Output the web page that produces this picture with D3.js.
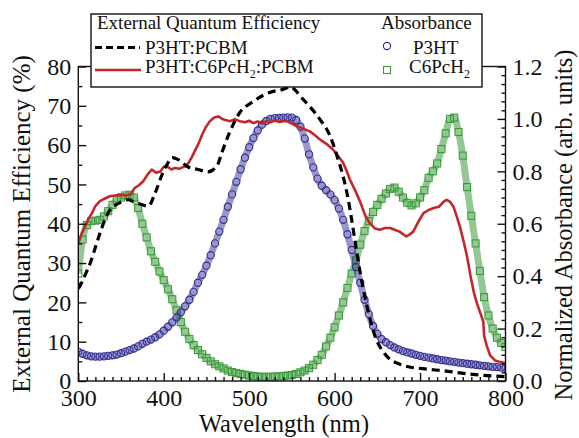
<!DOCTYPE html>
<html>
<head>
<meta charset="utf-8">
<script src="https://d3js.org/d3.v7.min.js"></script>
<style>
  body { margin: 0; background: #fff; }
  svg text { font-family: "Liberation Serif", "Times New Roman", Times, serif; fill: #111; }
  .axis path, .axis line { stroke: #111; stroke-width: 1.4; }
  .axis text { font-size: 24px; }
</style>
</head>
<body>
<script>
// EQE curves (left axis, %)
var eqeBlackWl = [300,302,308,314,320,326,332,338,344,350,358,365,372,382,390,399,405,410,417,428,440,452,463,468,477,489,504,515,524,540,548,556,560,571,583,595,603,610,616,620,626,630,640,648,655,665,675,689,700,718,735,749,765,780,800];
var eqeBlack   = [23.5,24.2,27,30,34,38,41.5,43.8,44.8,45.5,46.1,45.6,45.0,44.5,47.9,53,55.5,56.8,56.3,54.5,53.8,53.2,55,58.1,63.2,68.3,71,72.5,73.4,74.2,74.8,73.5,72.4,69.8,66.5,62.2,57.1,52,46.1,41,32.6,27.5,17,11,8,5.5,4.4,3.5,3.2,2.8,2.4,2.0,1.6,1.35,1.1];

var eqeRedWl = [300,304,308,312,316,320,325,330,337,343,349,355,361,366,371,376,381,386,391,396,400,404,409,413,418,425,429,433,437,441,444,449,454,459,464,468,472,478,483,489,495,500,505,510,515,520,525,530,535,540,544,550,556,563,571,577,583,590,598,604,610,614,618,624,630,636,641,647,653,659,665,671,676,681,684,688,692,698,704,710,716,722,727,731,735,739,743,747,751,755,759,763,767,771,774,775,778,782,788,794,800];
var eqeRed   = [35,37.5,39.3,41.3,42.7,44.5,45.7,46.3,47,47.2,47.4,47.2,47.4,49.1,49.8,50.8,52.5,53.8,53.0,53.3,54.5,54.6,53.8,54.2,54.0,54.6,55.5,57,58.8,60.5,62.2,64.5,66.1,67,67.3,66.7,66.4,66.1,66.6,66.1,65.8,66.2,65.6,66.0,65.5,66.1,65.8,66.3,65.9,66.1,66.1,65.5,64.8,64.2,63.5,62.5,61.4,60.4,58.9,57.3,55.5,53.5,51.2,48.5,45.5,42,40.2,38.8,38.5,38.9,38.9,38.4,38.0,37.2,36.8,37.3,38.0,40.5,42.7,43.5,44.0,44.3,45.5,46.1,45.6,44.4,41.8,39.0,35.5,31.7,26.8,22.5,19.5,17.0,15.1,11.5,9.0,6.5,5.2,4.8,4.5];

// Absorbance curves (right axis, normalized), sampled every 5 nm
var absWl = [300,305,310,315,320,325,330,335,340,345,350,355,360,365,370,375,380,385,390,395,400,405,410,415,420,425,430,435,440,445,450,455,460,465,470,475,480,485,490,495,500,505,510,515,520,525,530,535,540,545,550,555,560,565,570,575,580,585,590,595,600,605,610,615,620,625,630,635,640,645,650,655,660,665,670,675,680,685,690,695,700,705,710,715,720,725,730,735,740,745,750,755,760,765,770,775,780,785,790,795,800];
var absP3HT = [0.112,0.104,0.098,0.094,0.093,0.093,0.094,0.096,0.098,0.101,0.106,0.112,0.118,0.124,0.132,0.142,0.150,0.158,0.167,0.178,0.192,0.207,0.224,0.242,0.262,0.285,0.310,0.340,0.375,0.405,0.440,0.480,0.525,0.570,0.615,0.665,0.712,0.760,0.808,0.852,0.892,0.927,0.956,0.978,0.992,1.000,1.003,1.004,1.005,1.006,1.005,0.996,0.970,0.925,0.865,0.815,0.772,0.745,0.728,0.712,0.690,0.658,0.615,0.560,0.500,0.435,0.375,0.310,0.255,0.210,0.180,0.160,0.148,0.137,0.128,0.121,0.114,0.109,0.105,0.100,0.096,0.092,0.089,0.086,0.083,0.080,0.078,0.075,0.073,0.070,0.068,0.066,0.064,0.062,0.060,0.058,0.056,0.054,0.053,0.051,0.050];
var absC6 = [0.41,0.54,0.595,0.610,0.612,0.615,0.628,0.648,0.672,0.690,0.700,0.708,0.711,0.700,0.660,0.600,0.548,0.495,0.455,0.418,0.385,0.350,0.312,0.270,0.225,0.188,0.160,0.137,0.118,0.102,0.088,0.075,0.064,0.056,0.048,0.040,0.034,0.030,0.027,0.024,0.021,0.019,0.017,0.016,0.016,0.016,0.017,0.018,0.019,0.021,0.023,0.027,0.033,0.040,0.049,0.062,0.080,0.100,0.132,0.165,0.205,0.250,0.300,0.355,0.410,0.460,0.520,0.572,0.610,0.645,0.672,0.695,0.715,0.733,0.738,0.722,0.700,0.680,0.670,0.678,0.700,0.728,0.775,0.800,0.830,0.885,0.945,1.000,1.005,0.950,0.860,0.740,0.630,0.525,0.420,0.320,0.250,0.200,0.165,0.145,0.130];

var xTicks = [300,400,500,600,700,800];
var yLeftTicks = [0,10,20,30,40,50,60,70,80];
var yRightTicks = [0,0.2,0.4,0.6,0.8,1.0,1.2];

var W = 579, H = 438;
var plot = { left: 78.3, right: 505.5, top: 66.5, bottom: 381 };
var blue = "#332d93", green = "#3b9a3b", red = "#c3272b";
var serif = '"Liberation Serif", "Times New Roman", Times, serif';

var svg = d3.select("body").append("svg").attr("width", W).attr("height", H);

var x = d3.scaleLinear().domain([300, 800]).range([plot.left, plot.right]);
var yL = d3.scaleLinear().domain([0, 80]).range([plot.bottom, plot.top]);
var yR = d3.scaleLinear().domain([0, 1.2]).range([plot.bottom, plot.top]);

// clip to plot area
svg.append("clipPath").attr("id", "clip")
   .append("rect").attr("x", plot.left).attr("y", plot.top)
   .attr("width", plot.right - plot.left).attr("height", plot.bottom - plot.top);
var g = svg.append("g").attr("clip-path", "url(#clip)");

// absorbance markers
var c6 = absWl.map(function(d, i) { return [d, absC6[i]]; });
var p3 = absWl.map(function(d, i) { return [d, absP3HT[i]]; });
var lineR = d3.line().x(function(d) { return x(d[0]); }).y(function(d) { return yR(d[1]); }).curve(d3.curveMonotoneX);

g.append("path").datum(c6)
 .attr("fill", "none").attr("stroke", green).attr("stroke-opacity", 0.55).attr("stroke-width", 7)
 .attr("d", lineR);
g.selectAll(".sq").data(c6).enter().append("rect")
 .attr("x", function(d) { return x(d[0]) - 3.5; })
 .attr("y", function(d) { return yR(d[1]) - 3.5; })
 .attr("width", 7).attr("height", 7)
 .attr("fill", "none").attr("stroke", green).attr("stroke-width", 1.1);

g.append("path").datum(p3)
 .attr("fill", "none").attr("stroke", blue).attr("stroke-opacity", 0.5).attr("stroke-width", 7)
 .attr("d", lineR);
g.selectAll(".ci").data(p3).enter().append("circle")
 .attr("cx", function(d) { return x(d[0]); })
 .attr("cy", function(d) { return yR(d[1]); })
 .attr("r", 3.6)
 .attr("fill", "none").attr("stroke", blue).attr("stroke-width", 1.1);

// EQE lines
var lineL = d3.line().x(function(d) { return x(d[0]); }).y(function(d) { return yL(d[1]); });
g.append("path").datum(eqeRedWl.map(function(d, i) { return [d, eqeRed[i]]; }))
 .attr("fill", "none").attr("stroke", red).attr("stroke-width", 2.6).attr("stroke-linejoin", "round")
 .attr("d", lineL);
g.append("path").datum(eqeBlackWl.map(function(d, i) { return [d, eqeBlack[i]]; }))
 .attr("fill", "none").attr("stroke", "#000").attr("stroke-width", 3.2).attr("stroke-dasharray", "8,5")
 .attr("d", lineL.curve(d3.curveMonotoneX));

// frame
svg.append("rect").attr("x", plot.left).attr("y", plot.top)
   .attr("width", plot.right - plot.left).attr("height", plot.bottom - plot.top)
   .attr("fill", "none").attr("stroke", "#111").attr("stroke-width", 1.4);

// axes: major and minor ticks point inward
function minor(lo, hi, step, majors) {
  var out = [];
  for (var v = lo; v <= hi + 1e-9; v += step) {
    var r = Math.round(v * 1000) / 1000;
    if (majors.indexOf(r) < 0) out.push(r);
  }
  return out;
}

svg.append("g").attr("class", "axis").attr("transform", "translate(0," + plot.bottom + ")")
   .call(d3.axisBottom(x).tickValues(xTicks).tickSizeInner(-8).tickSizeOuter(0).tickPadding(8));
svg.append("g").attr("class", "axis").attr("transform", "translate(0," + plot.bottom + ")")
   .call(d3.axisBottom(x).tickValues(minor(300, 800, 10, xTicks)).tickSizeInner(-4).tickSizeOuter(0).tickFormat(""));

svg.append("g").attr("class", "axis").attr("transform", "translate(" + plot.left + ",0)")
   .call(d3.axisLeft(yL).tickValues(yLeftTicks).tickSizeInner(-8).tickSizeOuter(0).tickPadding(7));
svg.append("g").attr("class", "axis").attr("transform", "translate(" + plot.left + ",0)")
   .call(d3.axisLeft(yL).tickValues(minor(0, 80, 5, yLeftTicks)).tickSizeInner(-4).tickSizeOuter(0).tickFormat(""));

svg.append("g").attr("class", "axis").attr("transform", "translate(" + plot.right + ",0)")
   .call(d3.axisRight(yR).tickValues(yRightTicks).tickSizeInner(-8).tickSizeOuter(0).tickPadding(7).tickFormat(d3.format(".1f")));
svg.append("g").attr("class", "axis").attr("transform", "translate(" + plot.right + ",0)")
   .call(d3.axisRight(yR).tickValues(minor(0, 1.2, 0.2 / 6, yRightTicks)).tickSizeInner(-4).tickSizeOuter(0).tickFormat(""));

svg.selectAll(".axis .domain").remove();
svg.selectAll(".axis").attr("font-family", serif);

// axis titles
svg.append("text").attr("x", 284).attr("y", 432)
   .attr("text-anchor", "middle").style("font-size", "24.5px").text("Wavelength (nm)");
svg.append("text").attr("transform", "translate(30,224) rotate(-90)")
   .attr("text-anchor", "middle").style("font-size", "25px").text("External Quantum Efficiency (%)");
svg.append("text").attr("transform", "translate(572,225) rotate(-90)")
   .attr("text-anchor", "middle").style("font-size", "24.5px").text("Normalized Absorbance (arb. units)");

// legend
var lg = svg.append("g");
lg.append("rect").attr("x", 91).attr("y", 14).attr("width", 391).attr("height", 73)
  .attr("fill", "#fff").attr("stroke", "#111").attr("stroke-width", 1.4);
lg.append("text").attr("x", 97).attr("y", 29).style("font-size", "19px").text("External Quantum Efficiency");
lg.append("text").attr("x", 381).attr("y", 29).style("font-size", "19px").text("Absorbance");
lg.append("line").attr("x1", 95).attr("x2", 140).attr("y1", 47.5).attr("y2", 47.5)
  .attr("stroke", "#000").attr("stroke-width", 3.2).attr("stroke-dasharray", "7,4");
lg.append("text").attr("x", 145).attr("y", 53.5).style("font-size", "19px").text("P3HT:PCBM");
lg.append("line").attr("x1", 95).attr("x2", 141).attr("y1", 70).attr("y2", 70)
  .attr("stroke", red).attr("stroke-width", 2.6);
var t2 = lg.append("text").attr("x", 145).attr("y", 73).style("font-size", "19px");
t2.append("tspan").text("P3HT:C6PcH");
t2.append("tspan").attr("dy", 5).style("font-size", "12px").text("2");
t2.append("tspan").attr("dy", -5).text(":PCBM");
lg.append("circle").attr("cx", 387).attr("cy", 46).attr("r", 3.6)
  .attr("fill", "none").attr("stroke", blue).attr("stroke-width", 1.1);
lg.append("text").attr("x", 413).attr("y", 53.5).style("font-size", "19px").text("P3HT");
lg.append("rect").attr("x", 383.5).attr("y", 66.5).attr("width", 7).attr("height", 7)
  .attr("fill", "none").attr("stroke", green).attr("stroke-width", 1.1);
var t3 = lg.append("text").attr("x", 409).attr("y", 73).style("font-size", "19px");
t3.append("tspan").text("C6PcH");
t3.append("tspan").attr("dy", 5).style("font-size", "12px").text("2");
</script>
</body>
</html>
